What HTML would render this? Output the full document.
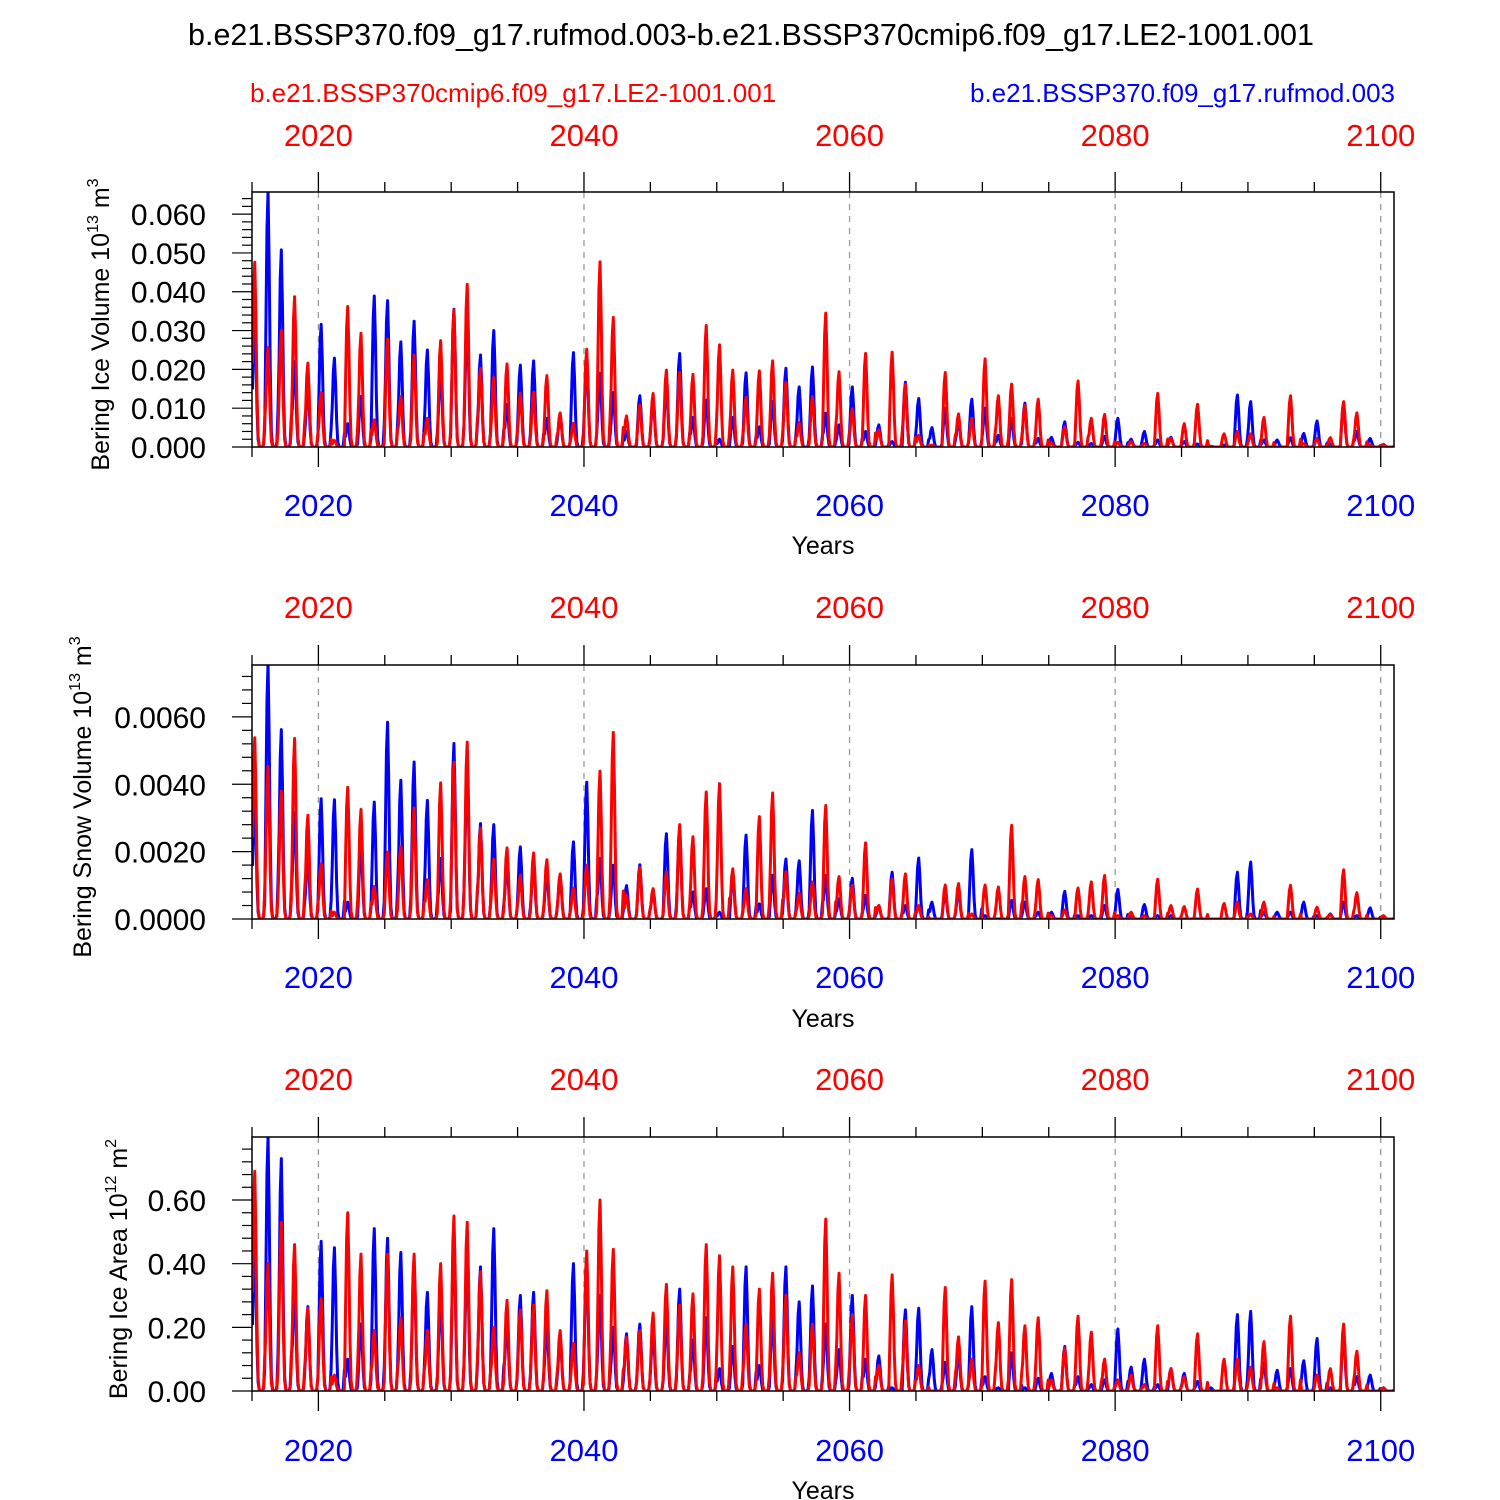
<!DOCTYPE html>
<html><head><meta charset="utf-8">
<style>
html,body{margin:0;padding:0;background:#fff;}
svg{display:block;font-family:"Liberation Sans",Arial,sans-serif;}
</style></head>
<body>
<svg id="chart" width="1500" height="1500" viewBox="0 0 1500 1500" xmlns="http://www.w3.org/2000/svg">
<text x="751" y="45" font-size="30.5" text-anchor="middle">b.e21.BSSP370.f09_g17.rufmod.003-b.e21.BSSP370cmip6.f09_g17.LE2-1001.001</text>
<text x="250" y="102" font-size="26" fill="#ff0000">b.e21.BSSP370cmip6.f09_g17.LE2-1001.001</text>
<text x="1395" y="102" font-size="26" fill="#0000ff" text-anchor="end">b.e21.BSSP370.f09_g17.rufmod.003</text>
</svg>
<script>
// ---- data: annual (March) peak values per year 2015..2100 ----
const years = [];
for (let y = 2015; y <= 2100; y++) years.push(y);
const seasonalProfile = [0.45,0.85,1,0.72,0.3,0.06,0.01,0,0,0,0.02,0.15];

const iceVolBlue = [0.033,0.0658,0.0508,0.022,0.016,0.0316,0.0229,0.006,0.013,0.0389,0.0377,0.0271,0.0324,0.025,0.020,0.0355,0.0333,0.0237,0.030,0.011,0.0211,0.0222,0.0074,0.0082,0.0243,0.0233,0.019,0.014,0.004,0.0132,0.0125,0.0162,0.0241,0.0076,0.0121,0.002,0.0076,0.0191,0.0052,0.0117,0.0203,0.0155,0.0206,0.0087,0.0057,0.0155,0.004,0.0057,0.0014,0.0167,0.0125,0.005,0.010,0.007,0.0123,0.010,0.003,0.0074,0.0113,0.0022,0.0025,0.0065,0.0012,0.0009,0.0027,0.0074,0.002,0.004,0.0018,0.0025,0.0014,0.0008,0.0002,0.0005,0.0134,0.0117,0.0018,0.0018,0.0024,0.0035,0.0067,0.0008,0.0113,0.004,0.0022,0];
const iceVolRed = [0.0476,0.0257,0.030,0.0387,0.0216,0.014,0.0017,0.0362,0.0293,0.007,0.0278,0.013,0.0237,0.0074,0.0274,0.0353,0.0419,0.0203,0.0179,0.0214,0.0138,0.0141,0.0184,0.0088,0.0061,0.0252,0.0477,0.0334,0.008,0.0108,0.0138,0.0198,0.0192,0.0187,0.0313,0.0263,0.0198,0.0128,0.0196,0.0222,0.0167,0.0063,0.013,0.0345,0.0194,0.0098,0.0241,0.0044,0.0244,0.0162,0.003,0.0005,0.0192,0.0085,0.0074,0.0227,0.0132,0.0162,0.0107,0.0123,0.001,0.0052,0.017,0.0074,0.0084,0.0012,0.0014,0.0009,0.0138,0.0022,0.006,0.011,0.0002,0.0034,0.004,0.0034,0.0076,0,0.0132,0.0009,0.0022,0.0024,0.0117,0.0088,0.0005,0.0007];

const snowVolBlue = [0.0035,0.0076,0.00562,0.00315,0.0019,0.00357,0.00354,0.0005,0.0022,0.00347,0.00584,0.00412,0.00466,0.00352,0.0018,0.00521,0.0046,0.00283,0.0028,0.0017,0.00214,0.0017,0.0014,0.0013,0.00229,0.00406,0.0018,0.0016,0.00099,0.00161,0.00087,0.00253,0.0027,0.0008,0.0009,0.0002,0.0013,0.00249,0.00045,0.0013,0.00178,0.00173,0.00322,0.0013,0.0006,0.00121,0.0007,0.0004,0.00139,0.0004,0.00181,0.0005,0.0008,0.00085,0.00206,0.0001,0,0.00055,0.0005,0.0002,0.0002,0.00082,0.0001,0.0001,0.0004,0.00088,0.0001,0.00043,0.0001,0.0001,0,0,0,0,0.00139,0.00169,0.0002,0.0002,0.0002,0.0005,0.0001,0.00015,0.0005,0.0001,0.00033,0];
const snowVolRed = [0.00538,0.00453,0.00379,0.00536,0.00308,0.00164,0.0002,0.00391,0.00325,0.00097,0.00199,0.00216,0.0033,0.00117,0.00404,0.00465,0.00525,0.0027,0.00178,0.00211,0.00129,0.00196,0.00176,0.00134,0.00092,0.0016,0.00439,0.00554,0.0007,0.00153,0.0009,0.0014,0.0028,0.00244,0.00377,0.00402,0.00149,0.0009,0.00304,0.00374,0.0014,0.00076,0.0011,0.00337,0.00126,0.001,0.00226,0.0004,0.00119,0.00134,0.0004,0,0.00101,0.00105,0.00015,0.00101,0.00095,0.00278,0.00126,0.00117,0.0001,0.00027,0.00092,0.0011,0.00129,0.0001,0.0002,0.0001,0.00118,0.0004,0.00037,0.00089,0,0.00046,0.0005,0.00015,0.0005,0,0.001,0,0.00035,0.00013,0.00146,0.00078,0,0.0001];

const iceAreaBlue = [0.46,0.80,0.73,0.32,0.265,0.47,0.45,0.10,0.21,0.51,0.48,0.435,0.40,0.31,0.30,0.49,0.43,0.39,0.51,0.22,0.30,0.31,0.21,0.17,0.40,0.41,0.30,0.20,0.18,0.21,0.19,0.23,0.32,0.16,0.23,0.07,0.14,0.39,0.08,0.23,0.39,0.28,0.33,0.21,0.13,0.30,0.10,0.11,0.01,0.255,0.26,0.13,0.09,0.12,0.265,0.045,0.01,0.12,0.01,0.04,0.055,0.14,0.045,0.02,0.035,0.195,0.075,0.10,0.02,0.07,0.055,0.03,0.01,0,0.24,0.25,0.09,0.065,0.07,0.095,0.165,0.01,0.18,0.045,0.05,0.01];
const iceAreaRed = [0.69,0.40,0.53,0.46,0.26,0.29,0.05,0.56,0.43,0.19,0.43,0.23,0.43,0.19,0.40,0.55,0.53,0.375,0.20,0.285,0.255,0.27,0.315,0.19,0.15,0.44,0.60,0.445,0.17,0.19,0.245,0.335,0.27,0.305,0.46,0.425,0.39,0.21,0.32,0.37,0.30,0.12,0.21,0.54,0.37,0.24,0.30,0.08,0.365,0.22,0.08,0,0.325,0.17,0.10,0.345,0.215,0.35,0.205,0.23,0.035,0.135,0.235,0.185,0.10,0.035,0.05,0.02,0.205,0.07,0.045,0.18,0,0.10,0.10,0.075,0.155,0.01,0.235,0,0.05,0.07,0.21,0.125,0,0.01];

const topTickLabels = ["2020","2040","2060","2080","2100"];
const iceVolTicks = ["0.000","0.010","0.020","0.030","0.040","0.050","0.060"];
const snowVolTicks = ["0.0000","0.0020","0.0040","0.0060"];
const iceAreaTicks = ["0.00","0.20","0.40","0.60"];

// ---- layout ----
const NS = "http://www.w3.org/2000/svg";
const svg = document.getElementById("chart");
const X0 = 252, X1 = 1394, T0 = 2015, T1 = 2101;
function xScale(t){ return X0 + (t - T0) / (T1 - T0) * (X1 - X0); }
function mk(tag, attrs, parent){ const e = document.createElementNS(NS, tag); for (const k in attrs) e.setAttribute(k, attrs[k]); (parent||svg).appendChild(e); return e; }

const panels = [
  {name:"ice-volume", top:192, bot:447, max:0.0657, step:0.01, minor:0.002, ticks:iceVolTicks, blue:iceVolBlue, red:iceVolRed,
   title:["Bering Ice Volume 10","13"," m","3"], tx:109, topLab:135, botLab:505, years:545},
  {name:"snow-volume", top:665, bot:919, max:0.00754, step:0.002, minor:0.0004, ticks:snowVolTicks, blue:snowVolBlue, red:snowVolRed,
   title:["Bering Snow Volume 10","13"," m","3"], tx:91, topLab:607, botLab:977, years:1018},
  {name:"ice-area", top:1137, bot:1391, max:0.798, step:0.2, minor:0.04, ticks:iceAreaTicks, blue:iceAreaBlue, red:iceAreaRed,
   title:["Bering Ice Area 10","12"," m","2"], tx:127, topLab:1079, botLab:1450, years:1490}
];

panels.forEach((p, pi) => {
  const g = mk("g", {});
  
  
  const yScale = v => p.bot - v / p.max * (p.bot - p.top);
  const cid = "clip" + pi;
  const cp = mk("clipPath", {id: cid}, g);
  mk("rect", {x: X0, y: p.top, width: X1 - X0, height: p.bot - p.top}, cp);

  for (let yr = 2020; yr <= 2100; yr += 20) {
    const gl = mk("line", {x1: xScale(yr), x2: xScale(yr), y1: p.top, y2: p.bot, stroke: "#999", "stroke-width": 1.3, "stroke-dasharray": "6,6"}, g);
    
    
  }

  [["blue", p.blue, "#0000ff"], ["red", p.red, "#ff0000"]].forEach(([nm, arr, col]) => {
    let pts = [];
    arr.forEach((pk, i) => {
      seasonalProfile.forEach((f, m) => {
        const t = years[i] + (m + 0.5) / 12;
        pts.push(xScale(t).toFixed(2) + "," + yScale(pk * f).toFixed(2));
      });
    });
    const pl = mk("polyline", {points: pts.join(" "), fill: "none", stroke: col, "stroke-width": 3, "stroke-linejoin": "round", "clip-path": "url(#" + cid + ")"}, g);
    
    
  });

  const fr = mk("rect", {x: X0, y: p.top, width: X1 - X0, height: p.bot - p.top, fill: "none", stroke: "#000", "stroke-width": 1.5}, g);
  
  

  for (let yr = 2015; yr <= 2100; yr += 5) {
    const len = (yr % 20 === 0) ? 20 : 10;
    mk("line", {x1: xScale(yr), x2: xScale(yr), y1: p.top, y2: p.top - len, stroke: "#000", "stroke-width": 1.3}, g);
    mk("line", {x1: xScale(yr), x2: xScale(yr), y1: p.bot, y2: p.bot + len, stroke: "#000", "stroke-width": 1.3}, g);
  }
  topTickLabels.forEach(lbl => {
    const x = xScale(+lbl);
    const t1 = mk("text", {x: x, y: p.topLab + 11, "font-size": 31, fill: "#ff0000", "text-anchor": "middle"}, g);
    t1.textContent = lbl;
    
    
    const t2 = mk("text", {x: x, y: p.botLab + 11, "font-size": 31, fill: "#0000ff", "text-anchor": "middle"}, g);
    t2.textContent = lbl;
    
    
  });
  const yt = mk("text", {x: 823, y: p.years + 9, "font-size": 25, "text-anchor": "middle"}, g);
  yt.textContent = "Years";
  
  

  const nMinor = Math.floor(p.max / p.minor + 1e-6);
  for (let k = 0; k <= nMinor; k++) {
    const v = k * p.minor;
    const major = Math.abs(v / p.step - Math.round(v / p.step)) < 1e-6;
    mk("line", {x1: X0, x2: X0 - (major ? 20 : 10), y1: yScale(v), y2: yScale(v), stroke: "#000", "stroke-width": 1.2}, g);
  }
  p.ticks.forEach((lbl, k) => {
    const t = mk("text", {x: 206, y: yScale(k * p.step) + 11, "font-size": 30, "text-anchor": "end"}, g);
    t.textContent = lbl;
    
    
  });

  const cy = (p.top + p.bot) / 2 + 5;
  const tt = mk("text", {x: 0, y: 0, "font-size": 25, "text-anchor": "middle", transform: "translate(" + p.tx + "," + cy + ") rotate(-90)"}, g);
  
  
  const parts = p.title;
  const s1 = mk("tspan", {}, tt); s1.textContent = parts[0];
  const s2 = mk("tspan", {dy: -11, "font-size": 16}, tt); s2.textContent = parts[1];
  const s3 = mk("tspan", {dy: 11}, tt); s3.textContent = parts[2];
  const s4 = mk("tspan", {dy: -11, "font-size": 16}, tt); s4.textContent = parts[3];
});
</script>
</body></html>
